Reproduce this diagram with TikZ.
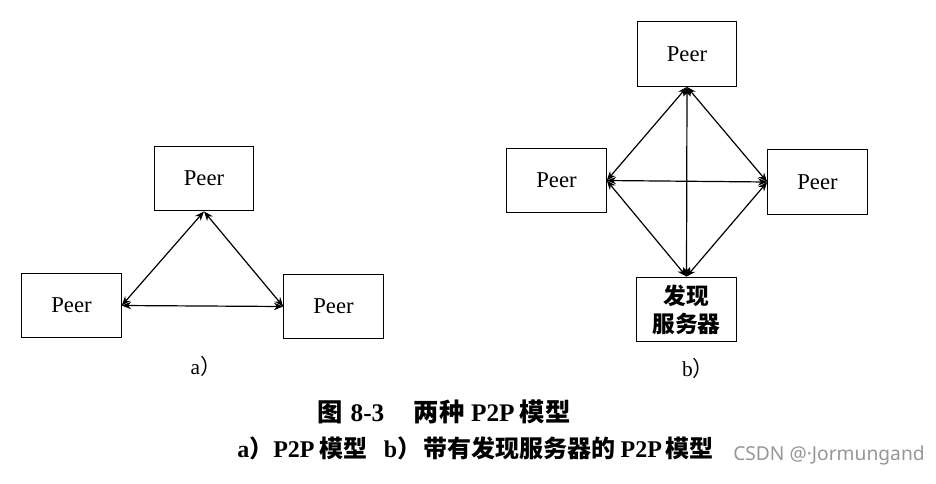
\documentclass[tikz,border=0pt]{standalone}
\usepackage{fontspec}
\setmainfont{Liberation Serif}
\newfontfamily\cjk{Noto Sans CJK SC}
\newfontfamily\wmfont{Noto Sans}
\usepackage{tikz}
\usetikzlibrary{arrows.meta}

\begin{document}
\begin{tikzpicture}[x=0.75pt,y=0.75pt,yscale=-1,xscale=1,
  peerbox/.style={draw, line width=0.9pt, minimum width=74.5pt, minimum height=48.5pt, inner sep=0pt, font=\fontsize{17}{20}\selectfont},
  link/.style={{Stealth[length=7pt,width=5.5pt]}-{Stealth[length=7pt,width=5.5pt]}, line width=0.9pt},
  caption/.style={anchor=west, inner sep=0pt, font=\bfseries}]
%set diagram size: 936 x 483
\useasboundingbox (0,0) rectangle (936,483);

%Panel a: three peers
\node [peerbox] (topA) at (204,178.5) {Peer};
\node [peerbox] (leftA) at (71.5,305.5) {Peer};
\node [peerbox] (rightA) at (333.5,306.5) {Peer};
\draw [link] (topA.south) -- (leftA.east);
\draw [link] (topA.south) -- (rightA.west);
\draw [link] (leftA.east) -- (rightA.west);

%Panel b: peers with discovery server
\node [peerbox] (topB) at (687,54) {Peer};
\node [peerbox] (leftB) at (556.5,180.5) {Peer};
\node [peerbox] (rightB) at (817.5,182) {Peer};
\node [peerbox, align=center, font=\fontsize{17}{21}\selectfont\cjk\bfseries] (server) at (686.5,309.5) {发现\\服务器};
\draw [link] (topB.south) -- (leftB.east);
\draw [link] (topB.south) -- (rightB.west);
\draw [link] (leftB.east) -- (rightB.west);
\draw [link] (topB.south) -- (server.north);
\draw [link] (leftB.east) -- (server.north);
\draw [link] (rightB.west) -- (server.north);

% Text Node
\node [font=\fontsize{16}{19}\selectfont] (labA) at (206,366) {a{\cjk ）}};
% Text Node
\node [font=\fontsize{16}{19}\selectfont] (labB) at (698,368) {b{\cjk ）}};

% Text Node
\node [caption, font=\fontsize{19}{22}\selectfont\bfseries] (capA) at (317,412) {{\cjk 图}\hspace{6pt}8-3\hspace{22pt}{\cjk 两种}\hspace{5pt}P2P\hspace{4pt}{\cjk 模型}};
% Text Node
\node [caption, font=\fontsize{18}{21}\selectfont\bfseries] (capB) at (237,448) {a{\cjk ）}P2P\hspace{4pt}{\cjk 模型}\hspace{12pt}b{\cjk ）}\hspace{1.5pt}{\cjk 带有发现服务器的}\hspace{4pt}P2P\hspace{3pt}{\cjk 模型}};
% Text Node
\node [anchor=west, inner sep=0pt, text={rgb,255:red,150;green,150;blue,150}, font=\fontsize{14.4}{17}\wmfont] (mark) at (733,455) {CSDN @·Jormungand};

\end{tikzpicture}
\end{document}
